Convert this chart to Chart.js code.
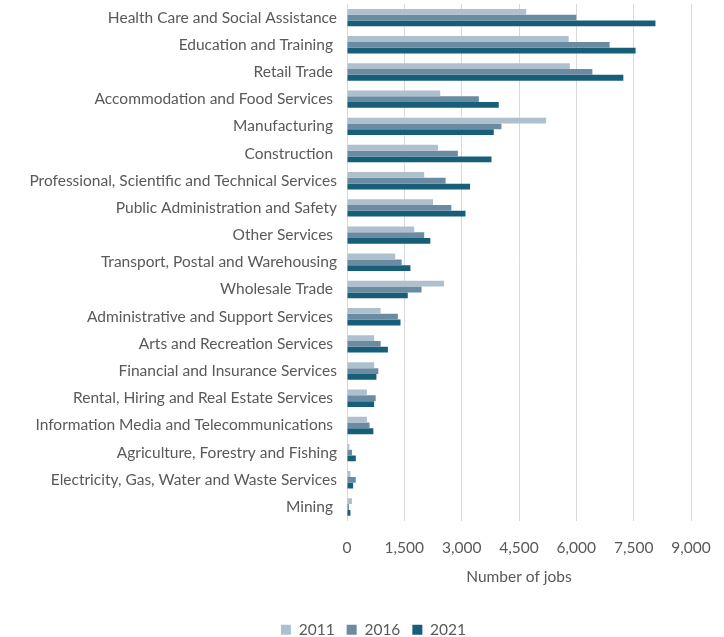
<!DOCTYPE html>
<html>
<head>
<meta charset="utf-8">
<script src="https://cdn.jsdelivr.net/npm/chart.js@4/dist/chart.umd.min.js"></script>
<style>
  html, body { margin: 0; padding: 0; background: #fff; }
  #wrap { width: 724px; height: 637px; }
</style>
</head>
<body>
<div id="wrap"><canvas id="c" width="724" height="637"></canvas></div>
<script>
  // Categorías (de arriba hacia abajo)
  const industrias = [
    'Health Care and Social Assistance',
    'Education and Training ',
    'Retail Trade ',
    'Accommodation and Food Services ',
    'Manufacturing ',
    'Construction ',
    'Professional, Scientific and Technical Services',
    'Public Administration and Safety',
    'Other Services ',
    'Transport, Postal and Warehousing',
    'Wholesale Trade ',
    'Administrative and Support Services ',
    'Arts and Recreation Services ',
    'Financial and Insurance Services',
    'Rental, Hiring and Real Estate Services ',
    'Information Media and Telecommunications ',
    'Agriculture, Forestry and Fishing',
    'Electricity, Gas, Water and Waste Services',
    'Mining '
  ];

  const anios = ['2011', '2016', '2021'];

  const empleos2011 = [4690, 5800, 5830, 2440, 5210, 2380, 2020, 2250, 1760, 1260, 2540, 880, 710, 710, 520, 520, 60, 90, 130];
  const empleos2016 = [6000, 6870, 6420, 3450, 4040, 2900, 2580, 2730, 2020, 1430, 1950, 1330, 880, 820, 750, 590, 130, 230, 50];
  const empleos2021 = [8070, 7550, 7230, 3970, 3840, 3780, 3220, 3100, 2180, 1660, 1590, 1400, 1070, 770, 710, 690, 230, 160, 90];

  const ticksX = [0, 1500, 3000, 4500, 6000, 7500, 9000];

  const colores = ['#aec0cd', '#6a8ba2', '#175e79'];
  const gris = '#595959';
  const fs = 15.5;
  Chart.defaults.font.family = 'Lato, "Open Sans", sans-serif';
  Chart.defaults.color = gris;

  const series = [empleos2011, empleos2016, empleos2021];

  // La leyenda va un poco corrida a la derecha, como en el original
  const correrLeyenda = {
    id: 'correrLeyenda',
    afterLayout(chart) {
      const lg = chart.legend;
      if (lg) { lg.left += 16; lg.right += 16; }
    }
  };

  new Chart(document.getElementById('c').getContext('2d'), {
    type: 'bar',
    data: {
      labels: industrias,
      datasets: series.map((s, i) => ({
        label: anios[i],
        data: s,
        backgroundColor: colores[i],
        borderWidth: 0,
        barPercentage: 1,
        categoryPercentage: 0.64
      }))
    },
    options: {
      indexAxis: 'y',
      responsive: false,
      animation: false,
      layout: { padding: { left: 24, right: 33, top: 4, bottom: 0 } },
      plugins: {
        legend: {
          position: 'bottom',
          maxHeight: 27,
          labels: { boxWidth: 10, boxHeight: 10, padding: 12, font: { size: fs }, color: gris }
        },
        tooltip: { enabled: false }
      },
      scales: {
        x: {
          min: 0, max: 9000,
          afterBuildTicks: (sc) => { sc.ticks = ticksX.map(v => ({ value: v })); },
          afterFit: (sc) => { sc.height = 89.4; sc.paddingLeft = 0; sc.paddingRight = 0; },
          grid: { color: '#d9d9d9', drawTicks: false },
          border: { display: false },
          ticks: { padding: 18, font: { size: fs }, color: gris, callback: (v) => v.toLocaleString('en-US') },
          title: { display: true, text: 'Number of jobs', font: { size: fs }, color: gris, padding: { top: 0, bottom: 24 } }
        },
        y: {
          afterFit: (sc) => { sc.width = 323; sc.paddingTop = 0; sc.paddingBottom = 0; },
          grid: { display: false, drawTicks: false },
          border: { display: false },
          ticks: { padding: 10, font: { size: fs }, color: gris, autoSkip: false }
        }
      }
    },
    plugins: [correrLeyenda]
  });
</script>
</body>
</html>
